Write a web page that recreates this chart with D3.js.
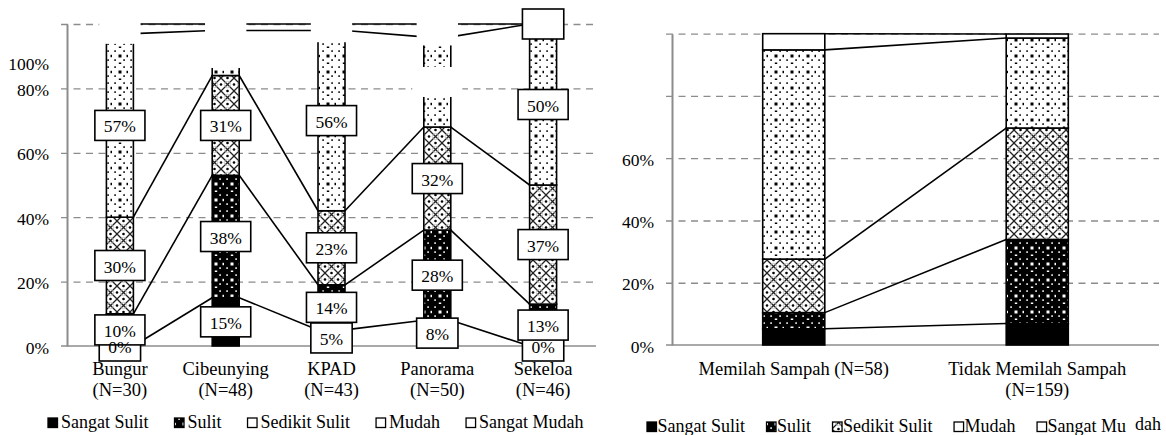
<!DOCTYPE html>
<html><head><meta charset="utf-8">
<script src="https://cdn.jsdelivr.net/npm/d3@7"></script>
<style>body{margin:0;background:#fff} svg{display:block;font-family:"Liberation Serif","Times New Roman",serif}</style>
</head><body><svg id="c" width="1166" height="435"></svg>
<script>
const seriesNames = ["Sangat Sulit","Sulit","Sedikit Sulit","Mudah","Sangat Mudah"];

const leftCategories = ["Bungur","Cibeunying","KPAD","Panorama","Sekeloa"];
const leftN = [30,48,43,50,46];
const leftSangatSulit = [0,15,5,8,0];
const leftSulit = [10,38,14,28,13];
const leftSedikitSulit = [30,31,23,32,37];
const leftMudah = [57,14,56,28,50];
const leftSangatMudah = [3,2,2,4,0];
const leftTickValues = [0,20,40,60,80,100];
const leftTickLabels = ["0%","20%","40%","60%","80%","100%"];
// data labels that are blanked out in the reference
const hiddenLabels = [["Bungur","Sangat Mudah"],["Cibeunying","Mudah"],["Cibeunying","Sangat Mudah"],["KPAD","Sangat Mudah"],["Panorama","Mudah"],["Panorama","Sangat Mudah"]];
const emptyLabels = [["Sekeloa","Sangat Mudah"]];
const leftLegendLabels = ["Sangat Sulit","Sulit","Sedikit Sulit","Mudah","Sangat Mudah"];

const rightCategories = ["Memilah Sampah (N=58)","Tidak Memilah Sampah (N=159)"];
const rightLabelLines = [["Memilah Sampah (N=58)"],["Tidak Memilah Sampah","(N=159)"]];
const rightSangatSulit = [5.2,6.9];
const rightSulit = [5.2,27.0];
const rightSedikitSulit = [17.2,35.8];
const rightMudah = [67.2,28.9];
const rightSangatMudah = [5.2,1.3];
const rightTickValues = [0,20,40,60,80,100];
const rightTickLabels = ["0%","20%","40%","60%","",""];
const rightLegendLabels = ["Sangat Sulit","Sulit","Sedikit Sulit","Mudah","Sangat Mu"];
const rightLegendTail = "dah";

const svg = d3.select("#c");
const defs = svg.append("defs");
function dotPattern(id, bg, fg){
  const p = defs.append("pattern").attr("id",id).attr("width",16).attr("height",16).attr("patternUnits","userSpaceOnUse");
  p.append("rect").attr("width",16).attr("height",16).attr("fill",bg);
  [[6.5,6.5,3,3],[14.5,6.8,1.7,2.4],[6.8,14.5,2.4,1.7],[2.3,2.3,1.6,1.6],[11.3,2.3,1.6,1.6],[2.3,11.3,1.6,1.6],[11.3,11.3,1.6,1.6]]
    .forEach(r=>p.append("rect").attr("x",r[0]).attr("y",r[1]).attr("width",r[2]).attr("height",r[3]).attr("fill",fg));
}
dotPattern("pMudah","#fff","#000");
dotPattern("pSulit","#000","#fff");
(function(){
  const s=13;
  const p = defs.append("pattern").attr("id","pSedikit").attr("width",s).attr("height",s).attr("patternUnits","userSpaceOnUse");
  p.append("rect").attr("width",s).attr("height",s).attr("fill","#fff");
  p.append("path").attr("d",`M0,0L${s},${s}M${s},0L0,${s}`).attr("stroke","#222").attr("stroke-width",1.3);
  [[0,s/2],[s,s/2],[s/2,0],[s/2,s]].forEach(c=>p.append("circle").attr("cx",c[0]).attr("cy",c[1]).attr("r",1.3).attr("fill","#000"));
  [[s/2,s/2]].forEach(c=>p.append("circle").attr("cx",c[0]).attr("cy",c[1]).attr("r",3.2).attr("fill","none").attr("stroke","#bbb").attr("stroke-width",0.8));
})();
const fills = {"Sangat Sulit":"#000","Sulit":"url(#pSulit)","Sedikit Sulit":"url(#pSedikit)","Mudah":"url(#pMudah)","Sangat Mudah":"#fff"};

function table(cats, arrs){
  return cats.map((c,i)=>{const o={cat:c}; seriesNames.forEach((s,j)=>o[s]=arrs[j][i]); return o;});
}

function panel(o){
  const x = d3.scaleBand().domain(o.cats).range([o.x0,o.x1]).paddingInner(0.745).paddingOuter(0.3725);
  const y = d3.scaleLinear().domain([0,100]).range([o.yb,o.yt]);
  const g = svg.append("g");
  const rows = table(o.cats, o.values);
  const stacked = d3.stack().keys(seriesNames)(rows);

  // gridlines
  const grid = g.append("g").attr("transform",`translate(${o.x0-6},0)`)
    .call(d3.axisLeft(y).tickValues(o.ticks.filter(v=>v>0)).tickSize(-(o.x1-o.x0+6)).tickFormat(""));
  grid.select(".domain").remove();
  grid.selectAll("line").attr("stroke","#8c8c8c").attr("stroke-width",1.3).attr("stroke-dasharray","7,5.5");
  // baseline
  g.append("line").attr("x1",o.x0-6).attr("x2",o.x1).attr("y1",y(0)).attr("y2",y(0)).attr("stroke","#8c8c8c").attr("stroke-width",1.6);
  // axis
  const ax = g.append("g").attr("transform",`translate(${o.x0},0)`)
    .call(d3.axisLeft(y).tickValues(o.ticks).tickSize(0).tickPadding(18).tickFormat((d,i)=>o.tickLabels[i]));
  ax.attr("font-family",null);
  ax.select(".domain").attr("stroke","#8c8c8c").attr("stroke-width",2);
  ax.selectAll("text").attr("font-family","Liberation Serif").attr("font-size",17.5).attr("fill","#000").attr("dy","0.4em");
  if(o.shift100) ax.selectAll(".tick").filter(d=>d===100).select("text").attr("y",y(o.shift100)-y(100));

  // series lines
  const lines = g.append("g");
  stacked.forEach(layer=>{
    for(let i=0;i<layer.length-1;i++){
      lines.append("line")
        .attr("x1",x(o.cats[i])+x.bandwidth()).attr("y1",y(layer[i][1]))
        .attr("x2",x(o.cats[i+1])).attr("y2",y(layer[i+1][1]))
        .attr("stroke","#000").attr("stroke-width",1.6);
    }
  });
  // bars
  const bars = g.append("g");
  stacked.forEach(layer=>{
    bars.selectAll(null).data(layer).join("rect")
      .attr("x",d=>x(d.data.cat)).attr("width",x.bandwidth())
      .attr("y",d=>y(d[1])).attr("height",d=>y(d[0])-y(d[1]))
      .attr("fill",fills[layer.key]).attr("stroke","#000").attr("stroke-width",1.6);
  });
  // data labels
  if(o.dataLabels){
    const boxes = g.append("g"), texts = g.append("g");
    stacked.forEach(layer=>layer.forEach(d=>{
      const cat=d.data.cat, key=layer.key, v=d.data[key];
      const hidden = hiddenLabels.some(h=>h[0]===cat&&h[1]===key);
      const empty = emptyLabels.some(h=>h[0]===cat&&h[1]===key);
      const cx = x(cat)+x.bandwidth()/2, cy = y((d[0]+d[1])/2);
      const t = texts.append("text").attr("x",cx).attr("y",cy+7).attr("text-anchor","middle").attr("font-size",17.5).text(v+"%");
      const w = t.node().getComputedTextLength()+18;
      boxes.append("rect").attr("x",cx-w/2).attr("y",cy-15).attr("width",w).attr("height",30)
        .attr("fill","#fff").attr("stroke",hidden?"none":"#000").attr("stroke-width",1.6);
      if(hidden||empty) t.remove();
    }));
  }
  // category labels
  const cl = g.append("g");
  o.cats.forEach((c,i)=>{
    const t = cl.append("text").attr("x",x(c)+x.bandwidth()/2).attr("y",o.catY).attr("text-anchor","middle").attr("font-size",18.5);
    o.catLines[i].forEach((ln,j)=>t.append("tspan").attr("x",x(c)+x.bandwidth()/2).attr("y",o.catY+j*21).text(ln));
  });
  // legend
  const lg = g.append("g");
  let cur = o.legX;
  o.legendLabels.forEach((lab,i)=>{
    lg.append("rect").attr("x",cur).attr("y",o.legY-10).attr("width",9.5).attr("height",9.5)
      .attr("fill",o.legendFills[i]).attr("stroke","#000").attr("stroke-width",1.3);
    const t = lg.append("text").attr("x",cur+o.legTextOff).attr("y",o.legY).attr("font-size",18).text(lab);
    cur += o.legTextOff + t.node().getComputedTextLength() + o.legGap;
  });
  if(o.legendTail){
    lg.append("text").attr("x",o.tailX).attr("y",o.legY-2).attr("font-size",18).text(o.legendTail);
  }
}

panel({
  cats: leftCategories,
  values: [leftSangatSulit,leftSulit,leftSedikitSulit,leftMudah,leftSangatMudah],
  x0:67, x1:596, yb:346, yt:24,
  ticks: leftTickValues, tickLabels: leftTickLabels, shift100: 88,
  dataLabels: true,
  catY: 375, catLines: leftCategories.map((c,i)=>[c,`(N=${leftN[i]})`]),
  legendLabels: leftLegendLabels, legendFills: ["#000","url(#pSulit)","#fff","#fff","#fff"],
  legX: 48, legY: 428, legTextOff: 13, legGap: 26
});
panel({
  cats: rightCategories,
  values: [rightSangatSulit,rightSulit,rightSedikitSulit,rightMudah,rightSangatMudah],
  x0:672, x1:1159, yb:345, yt:33.7,
  ticks: rightTickValues, tickLabels: rightTickLabels,
  dataLabels: false,
  catY: 375, catLines: rightLabelLines,
  legendLabels: rightLegendLabels, legendFills: ["#000","url(#pSulit)","url(#pSedikit)","#fff","#fff"],
  legendTail: rightLegendTail, tailX: 1135,
  legX: 647, legY: 432, legTextOff: 10.5, legGap: 21.5
});
</script></body></html>
